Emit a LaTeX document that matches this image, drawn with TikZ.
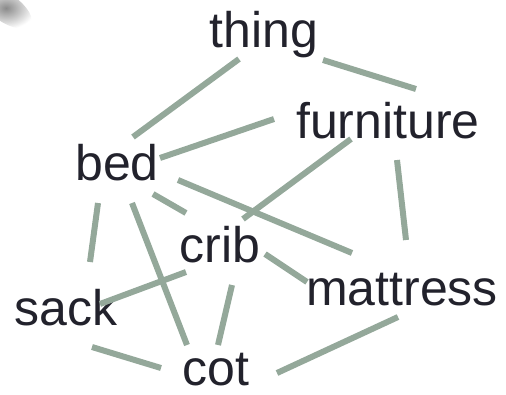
\documentclass[tikz,border=0pt]{standalone}
\usepackage{fontspec}
\setmainfont{Liberation Sans}
\usetikzlibrary{calc}

\definecolor{linkgrey}{HTML}{94A89A}
\definecolor{wordink}{HTML}{22222C}

\tikzset{
  word/.style={text=wordink, font=\fontsize{50}{60}\selectfont, inner sep=0pt, anchor=base},
  link/.style={draw=linkgrey, line width=6pt}
}

\begin{document}
\begin{tikzpicture}[x=1pt, y=-1pt]
    \useasboundingbox (0,0) rectangle (506,394);

    % corner shadow
    \begin{scope}
      \clip (0,0) rectangle (506,394);
      \shade[inner color=black!65, outer color=white, opacity=0.7, rotate around={-35:(6,8)}] (6,8) ellipse (30 and 14);
    \end{scope}

    \node[word] (thing)     at (264,47)  {thing};
    \node[word] (furniture) at (388,138) {furniture};
    \node[word] (bed)       at (117,180) {bed};
    \node[word] (crib)      at (220,262) {crib};
    \node[word] (mattress)  at (402,305) {mattress};
    \node[word] (sack)      at (66,325)  {sack};
    \node[word] (cot)       at (216,385) {cot};

    \path ($(thing.base)+(-25,12)$)     edge[link] ($(bed.base)+(16,-43)$)
          ($(thing.base)+(59,13)$)      edge[link] ($(furniture.base)+(28,-49)$)
          ($(bed.base)+(43,-22)$)       edge[link] ($(furniture.base)+(-114,-19)$)
          ($(bed.base)+(61,0)$)         edge[link] ($(mattress.base)+(-50,-52)$)
          ($(bed.base)+(36,14)$)        edge[link] ($(crib.base)+(-34,-49)$)
          ($(bed.base)+(-19,23)$)       edge[link] ($(sack.base)+(24,-63)$)
          ($(bed.base)+(15,23)$)        edge[link] ($(cot.base)+(-29,-40)$)
          ($(furniture.base)+(-37,1)$)  edge[link] ($(crib.base)+(23,-43)$)
          ($(furniture.base)+(9,22)$)   edge[link] ($(mattress.base)+(4,-65)$)
          ($(crib.base)+(45,-8)$)       edge[link] ($(mattress.base)+(-95,-23)$)
          ($(crib.base)+(-34,10)$)      edge[link] ($(sack.base)+(34,-21)$)
          ($(crib.base)+(12,23)$)       edge[link] ($(cot.base)+(2,-40)$)
          ($(sack.base)+(26,22)$)       edge[link] ($(cot.base)+(-55,-17)$)
          ($(mattress.base)+(-4,12)$)   edge[link] ($(cot.base)+(61,-12)$);
\end{tikzpicture}
\end{document}
